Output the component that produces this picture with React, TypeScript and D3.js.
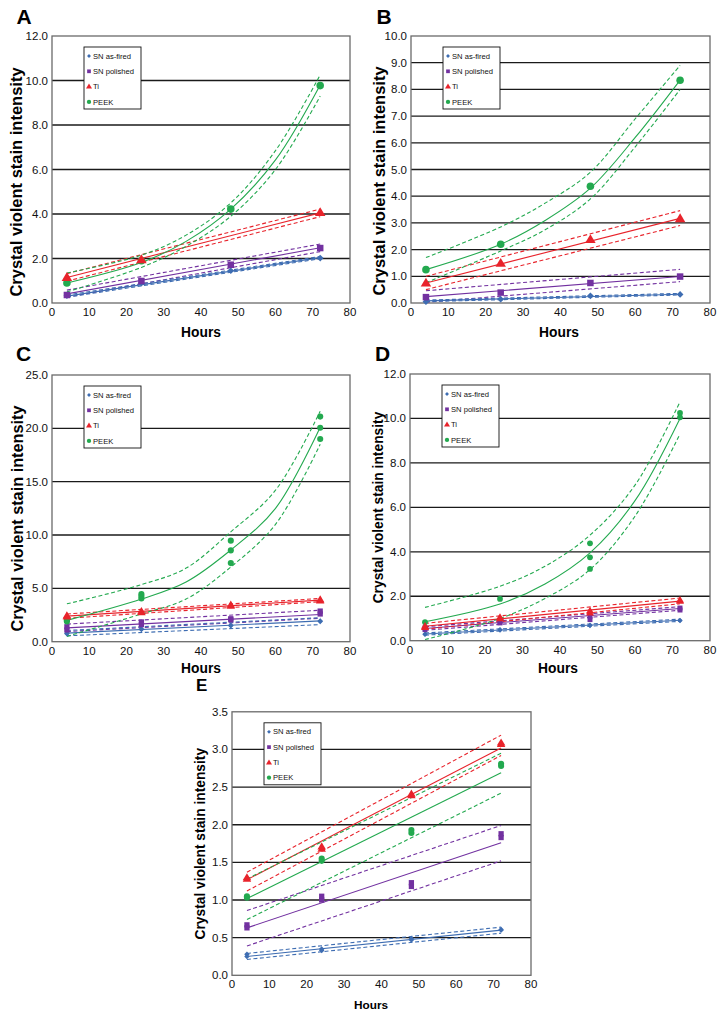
import React from "react";
import * as d3 from "d3";

// ---------- shared categories ----------
const hours = [4, 24, 48, 72];
const lineHours = [4, 72];
const curveHours = [4, 24, 36, 48, 60, 72];
const xTicks = [0, 10, 20, 30, 40, 50, 60, 70, 80];
const seriesNames = ["SN as-fired", "SN polished", "Ti", "PEEK"];
const seriesColors = ["#3e6db2", "#7231a0", "#e8232b", "#23a94f"];
const seriesShapes = ["diamond", "square", "triangle", "circle"];

// ---------- Panel A ----------
const aAsFired = [[0.33], [0.9], [1.45], [2.02]];
const aPolished = [[0.36], [0.99], [1.72], [2.47]];
const aTi = [[1.15], [1.95], [], [4.07]];
const aPeek = [[0.9], [1.9], [4.22], [9.77]];
const aAsFiredFit = [[0.31, 2.04], [0.36, 2.09], [0.26, 1.99]];
const aPolishedFit = [[0.41, 2.48], [0.58, 2.65], [0.26, 2.31]];
const aTiFit = [[1.15, 4.05], [1.32, 4.22], [0.98, 3.88]];
const aPeekFit = [
  [0.9, 1.82, 2.77, 4.22, 6.43, 9.8],
  [1.35, 2.15, 3.05, 4.5, 6.85, 10.25],
  [0.5, 1.6, 2.55, 3.9, 6.0, 9.3],
];

// ---------- Panel B ----------
const bAsFired = [[0.05], [0.14], [0.27], [0.32]];
const bPolished = [[0.22], [0.39], [0.75], [0.99]];
const bTi = [[0.75], [1.49], [2.38], [3.16]];
const bPeek = [[1.25], [2.2], [4.37], [8.34]];
const bAsFiredFit = [[0.08, 0.33], [0.11, 0.36], [0.05, 0.3]];
const bPolishedFit = [[0.24, 0.99], [0.46, 1.26], [0.03, 0.8]];
const bTiFit = [[0.75, 3.17], [1.0, 3.46], [0.5, 2.9]];
const bPeekFit = [
  [1.25, 2.2, 3.1, 4.3, 6.2, 8.35],
  [1.7, 2.85, 3.75, 4.9, 6.9, 8.9],
  [0.76, 1.95, 2.75, 3.9, 5.85, 8.0],
];

// ---------- Panel C ----------
const cAsFired = [[0.75, 0.8], [1.15, 1.2], [1.5, 1.55], [1.9, 1.95]];
const cPolished = [[1.1, 1.4], [1.6, 1.85], [2.05, 2.15], [2.6, 2.87]];
const cTi = [[2.35, 2.45], [2.75, 2.85], [3.35, 3.45], [3.85, 3.95]];
const cPeek = [[1.9, 2.0], [4.06, 4.28, 4.47], [7.37, 8.56, 9.47], [19.0, 20.06, 21.1]];
const cAsFiredFit = [[0.8, 1.95], [1.05, 2.25], [0.55, 1.6]];
const cPolishedFit = [[1.3, 2.55], [1.65, 2.95], [0.95, 2.2]];
const cTiFit = [[2.4, 3.9], [2.6, 4.05], [2.2, 3.75]];
const cPeekFit = [
  [2.0, 4.0, 5.6, 8.6, 12.5, 20.1],
  [3.55, 5.35, 6.9, 10.3, 14.2, 21.6],
  [0.5, 2.6, 4.0, 7.0, 11.0, 18.5],
];

// ---------- Panel D ----------
const dAsFired = [[0.28, 0.3], [0.47, 0.5], [0.68, 0.7], [0.9, 0.92]];
const dPolished = [[0.5, 0.58], [0.8, 0.85], [0.95, 1.1], [1.38, 1.47]];
const dTi = [[0.6, 0.66], [1.0, 1.05], [1.25, 1.35], [1.78, 1.83]];
const dPeek = [[0.83], [1.88], [3.23, 3.75, 4.38], [10.05, 10.25]];
const dAsFiredFit = [[0.3, 0.92], [0.35, 0.97], [0.25, 0.87]];
const dPolishedFit = [[0.55, 1.45], [0.63, 1.53], [0.47, 1.37]];
const dTiFit = [[0.65, 1.78], [0.78, 1.92], [0.52, 1.66]];
const dPeekFit = [
  [0.85, 1.65, 2.55, 3.95, 6.3, 10.0],
  [1.5, 2.45, 3.35, 4.75, 7.0, 10.75],
  [0.05, 1.0, 1.9, 3.2, 5.6, 9.3],
];

// ---------- Panel E ----------
const eAsFired = [[0.25, 0.28], [0.33, 0.35], [0.47, 0.49], [0.6, 0.61]];
const ePolished = [[0.63, 0.67], [1.0, 1.05], [1.18, 1.23], [1.83, 1.88]];
const eTi = [[1.28, 1.3], [1.68, 1.71], [2.39, 2.41], [3.07, 3.09]];
const ePeek = [[1.03, 1.05], [1.52, 1.55], [1.89, 1.93], [2.78, 2.81]];
const eAsFiredFit = [[0.25, 0.6], [0.29, 0.64], [0.21, 0.56]];
const ePolishedFit = [[0.63, 1.76], [0.86, 1.99], [0.39, 1.52]];
const eTiFit = [[1.27, 3.02], [1.37, 3.19], [1.12, 2.92]];
const ePeekFit = [[1.02, 2.69], [1.28, 2.95], [0.74, 2.42]];

const FONT = "'Liberation Sans', Arial, Helvetica, sans-serif";

type PanelCfg = {
  letter: string;
  lx: number; ly: number; lfs: number;
  left: number; right: number; top: number; bottom: number;
  yMax: number; yStep: number;
  ylabX: number; ylabY: number; ylabFs: number;
  hoursX: number; hoursY: number; hoursFs: number;
  ms: number;
  points: number[][][];
  fits: number[][][];
};

const panels: PanelCfg[] = [
  { letter: "A", lx: 16.5, ly: 23.5, lfs: 21, left: 52, right: 350, top: 36, bottom: 303, yMax: 12, yStep: 2,
    ylabX: 21.5, ylabY: 182, ylabFs: 16.5, hoursX: 201, hoursY: 337, hoursFs: 13.8, ms: 1.05,
    points: [aAsFired, aPolished, aTi, aPeek], fits: [aAsFiredFit, aPolishedFit, aTiFit, aPeekFit] },
  { letter: "B", lx: 376.5, ly: 23.5, lfs: 21, left: 411, right: 710, top: 36, bottom: 303, yMax: 10, yStep: 1,
    ylabX: 385, ylabY: 181, ylabFs: 16.5, hoursX: 559, hoursY: 337, hoursFs: 13.8, ms: 1.05,
    points: [bAsFired, bPolished, bTi, bPeek], fits: [bAsFiredFit, bPolishedFit, bTiFit, bPeekFit] },
  { letter: "C", lx: 16, ly: 360.5, lfs: 21, left: 52, right: 350, top: 375, bottom: 641.7, yMax: 25, yStep: 5,
    ylabX: 23, ylabY: 518.5, ylabFs: 16.3, hoursX: 201, hoursY: 673, hoursFs: 13.8, ms: 0.85,
    points: [cAsFired, cPolished, cTi, cPeek], fits: [cAsFiredFit, cPolishedFit, cTiFit, cPeekFit] },
  { letter: "D", lx: 375, ly: 360.5, lfs: 21, left: 410, right: 710, top: 374, bottom: 640.7, yMax: 12, yStep: 2,
    ylabX: 382.5, ylabY: 507.5, ylabFs: 13.8, hoursX: 558, hoursY: 673, hoursFs: 13.8, ms: 0.8,
    points: [dAsFired, dPolished, dTi, dPeek], fits: [dAsFiredFit, dPolishedFit, dTiFit, dPeekFit] },
  { letter: "E", lx: 196, ly: 690.5, lfs: 17, left: 232, right: 531, top: 711.8, bottom: 975.3, yMax: 3.5, yStep: 0.5,
    ylabX: 205, ylabY: 843.7, ylabFs: 13.8, hoursX: 371, hoursY: 1009, hoursFs: 11.8, ms: 0.85,
    points: [eAsFired, ePolished, eTi, ePeek], fits: [eAsFiredFit, ePolishedFit, eTiFit, ePeekFit] },
];

function markerPath(shape: string, s: number): string {
  if (shape === "diamond") {
    const r = 3.2 * s;
    return `M0,${-r}L${r},0L0,${r}L${-r},0Z`;
  }
  if (shape === "square") {
    const r = 3.1 * s;
    return `M${-r},${-r}H${r}V${r}H${-r}Z`;
  }
  if (shape === "triangle") {
    const w = 5 * s;
    const h = 8.4 * s;
    return `M0,${-h * 0.6}L${w},${h * 0.4}L${-w},${h * 0.4}Z`;
  }
  const r = 3.6 * s;
  return `M${r},0A${r},${r} 0 1,1 ${-r},0A${r},${r} 0 1,1 ${r},0Z`;
}

function Panel({ p }: { p: PanelCfg }) {
  const x = d3.scaleLinear().domain([0, 80]).range([p.left, p.right]);
  const y = d3.scaleLinear().domain([0, p.yMax]).range([p.bottom, p.top]);
  const yTicks = d3.range(0, p.yMax + p.yStep / 2, p.yStep);
  const line = d3
    .line<[number, number]>()
    .x((d) => x(d[0]))
    .y((d) => y(d[1]))
    .curve(d3.curveCatmullRom.alpha(0.5));

  const lineOrder = [1, 0, 2, 3];
  const markerOrder = [0, 1, 3, 2];
  const lgX = p.left + 32;
  const lgY = p.top + 11;

  return (
    <g>
      <text x={p.lx} y={p.ly} fontSize={p.lfs} fontWeight="bold" fill="#000">
        {p.letter}
      </text>
      <rect x={p.left} y={p.top} width={p.right - p.left} height={p.bottom - p.top} fill="#fff" />
      {yTicks
        .filter((t) => t > 0 && t < p.yMax - 1e-9)
        .map((t) => (
          <line key={"g" + t} x1={p.left} x2={p.right} y1={y(t)} y2={y(t)} stroke="#1a1a1a" strokeWidth={1.3} />
        ))}
      <rect x={p.left} y={p.top} width={p.right - p.left} height={p.bottom - p.top} fill="none" stroke="#6a6a6a" strokeWidth={1.3} />
      {yTicks.map((t) => (
        <text key={"yt" + t} x={p.left - 4} y={y(t)} dy="0.35em" textAnchor="end" fontSize={11.5} fill="#111">
          {t.toFixed(1)}
        </text>
      ))}
      {xTicks.map((t) => (
        <text key={"xt" + t} x={x(t)} y={p.bottom + 13} textAnchor="middle" fontSize={11.5} fill="#111">
          {t}
        </text>
      ))}
      <text x={p.hoursX} y={p.hoursY} textAnchor="middle" fontSize={p.hoursFs} fontWeight="bold" fill="#000">
        Hours
      </text>
      <text
        transform={`translate(${p.ylabX},${p.ylabY}) rotate(-90)`}
        textAnchor="middle"
        fontSize={p.ylabFs}
        fontWeight="bold"
        fill="#000"
      >
        Crystal violent stain intensity
      </text>
      {/* fit lines and confidence bands */}
      {lineOrder.map((si) =>
        p.fits[si].map((vals, k) => {
          const xs = vals.length === 2 ? lineHours : curveHours;
          const pts = vals.map((v, j) => [xs[j], v] as [number, number]);
          return (
            <path
              key={"f" + si + "-" + k}
              d={line(pts) || ""}
              fill="none"
              stroke={seriesColors[si]}
              strokeWidth={1.1}
              strokeDasharray={k === 0 ? undefined : "4 2.5"}
            />
          );
        })
      )}
      {/* data markers */}
      {markerOrder.map((si) =>
        p.points[si].map((reps, hi) =>
          reps.map((v, r) => (
            <path
              key={"m" + si + "-" + hi + "-" + r}
              d={markerPath(seriesShapes[si], p.ms)}
              transform={`translate(${x(hours[hi])},${y(v)})`}
              fill={seriesColors[si]}
            />
          ))
        )
      )}
      {/* legend */}
      <rect x={lgX} y={lgY} width={57} height={62} fill="#fff" stroke="#111" strokeWidth={0.9} />
      {seriesNames.map((name, i) => {
        const ry = lgY + 9 + i * 15.3;
        return (
          <g key={"lg" + i}>
            <path d={markerPath(seriesShapes[i], 0.6)} transform={`translate(${lgX + 5},${ry})`} fill={seriesColors[i]} />
            <text x={lgX + 9} y={ry} dy="0.35em" fontSize={7.6} fill="#111">
              {name}
            </text>
          </g>
        );
      })}
    </g>
  );
}

export default function App() {
  return (
    <svg
      width={724}
      height={1018}
      viewBox="0 0 724 1018"
      style={{ position: "absolute", left: 0, top: 0, background: "#fff" }}
      fontFamily={FONT}
    >
      <rect x={0} y={0} width={724} height={1018} fill="#fff" />
      {panels.map((p) => (
        <Panel key={p.letter} p={p} />
      ))}
    </svg>
  );
}
